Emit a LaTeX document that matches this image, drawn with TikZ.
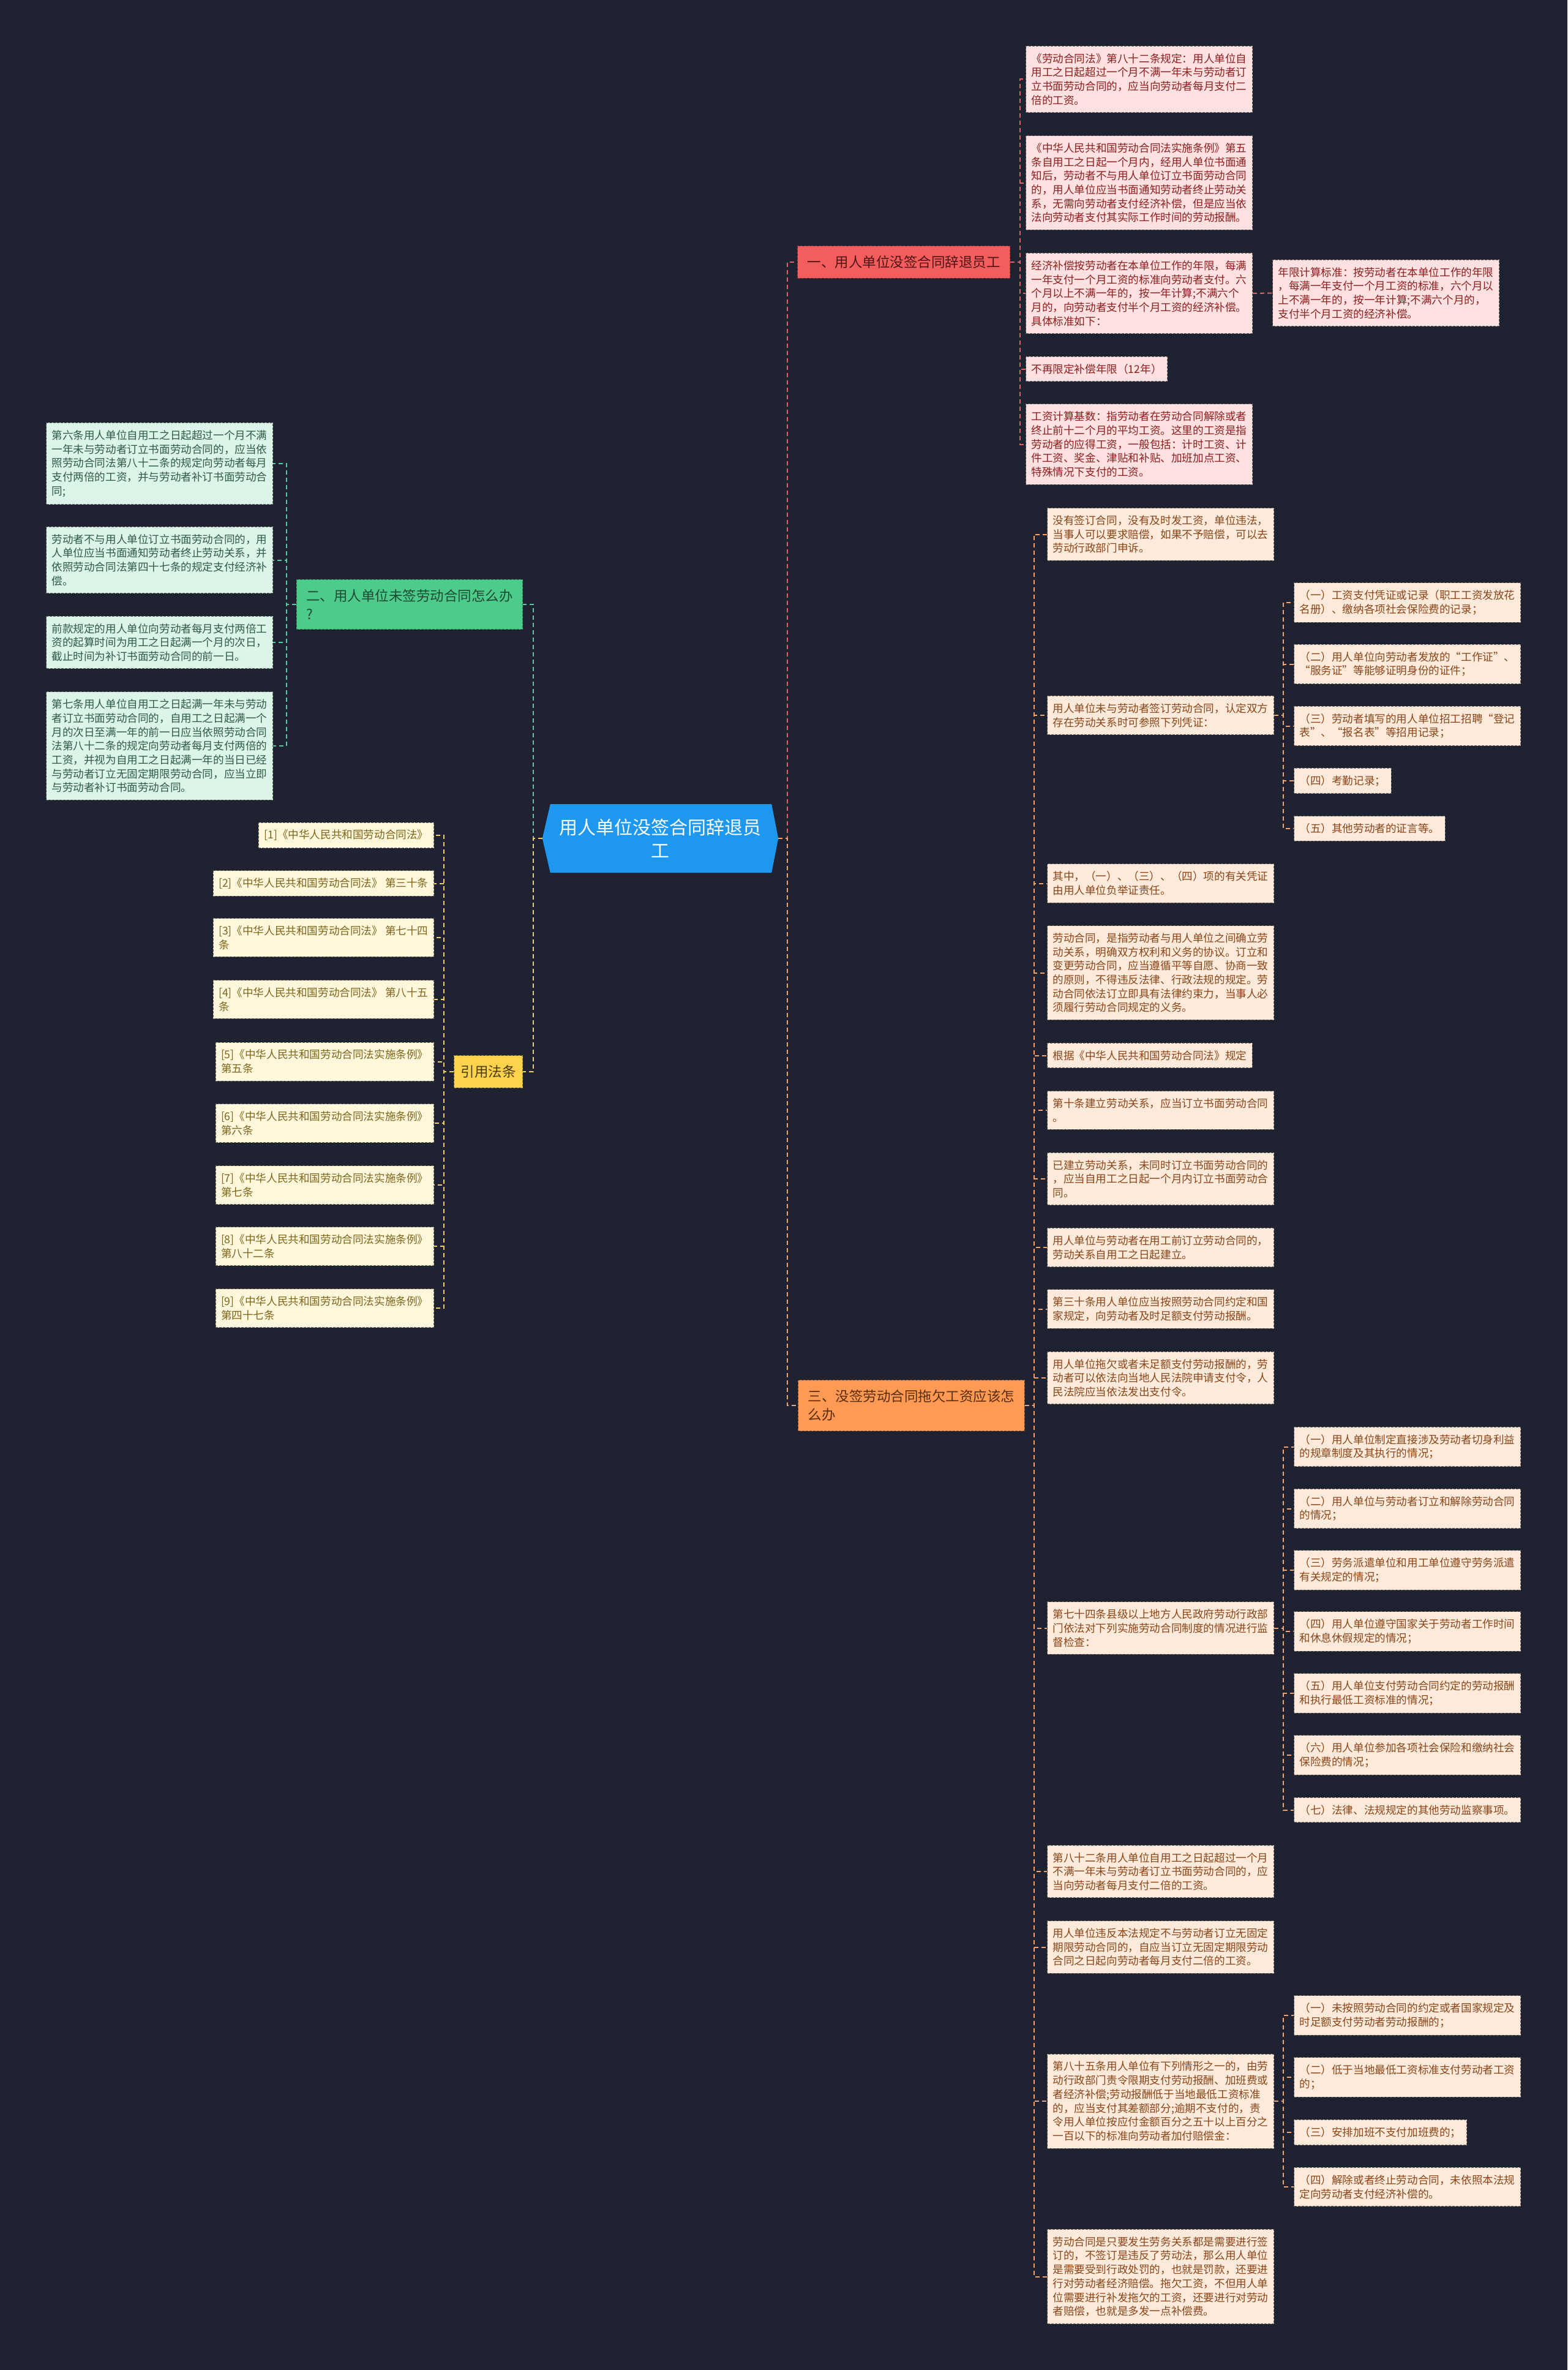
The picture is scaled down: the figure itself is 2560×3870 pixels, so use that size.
\documentclass[tikz,border=0pt]{standalone}
\usepackage{fontspec}
\setmainfont{Noto Sans CJK SC}
\usetikzlibrary{backgrounds,calc}
\definecolor{bg}{HTML}{1F2230}
\definecolor{cblue}{HTML}{1E98EE}
\definecolor{rF}{HTML}{F45D5D}\definecolor{rT}{HTML}{4E1414}\definecolor{rL}{HTML}{FFE1E1}\definecolor{rLT}{HTML}{8E1E1E}\definecolor{rC}{HTML}{E06363}
\definecolor{gF}{HTML}{4CCB8B}\definecolor{gT}{HTML}{1E4A34}\definecolor{gL}{HTML}{DCF5E9}\definecolor{gLT}{HTML}{2F5A45}\definecolor{gC}{HTML}{58C9A0}
\definecolor{yF}{HTML}{FDD34D}\definecolor{yT}{HTML}{4A3A05}\definecolor{yL}{HTML}{FEF7DB}\definecolor{yLT}{HTML}{7D651B}\definecolor{yC}{HTML}{F2CD63}
\definecolor{oF}{HTML}{FF9A54}\definecolor{oT}{HTML}{5A2C0C}\definecolor{oL}{HTML}{FDEADB}\definecolor{oLT}{HTML}{8A4518}\definecolor{oC}{HTML}{F3A36E}
\tikzset{
  leaf/.style={draw, line width=1pt, dash pattern=on 4pt off 2pt, align=left, inner xsep=9pt, inner ysep=12pt, font=\fontsize{17.6}{22.7}\selectfont},
  rleaf/.style={leaf, fill=rL, draw=rL!45!black, text=rLT},
  gleaf/.style={leaf, fill=gL, draw=gL!45!black, text=gLT},
  yleaf/.style={leaf, fill=yL, draw=yL!45!black, text=yLT},
  oleaf/.style={leaf, fill=oL, draw=oL!45!black, text=oLT},
  branchbox/.style={draw, line width=1pt, dash pattern=on 4pt off 2pt, align=left, inner xsep=16pt, inner ysep=16pt, font=\fontsize{22.5}{30}\selectfont},
  conn/.style={line width=2pt, dash pattern=on 7pt off 5pt},
}
\begin{document}
\begin{tikzpicture}[x=1pt,y=-1pt]
\useasboundingbox (0,0) rectangle (2560,3870);
% central
\node[text=white, align=center, minimum width=385pt, minimum height=112pt, inner sep=0pt, font=\fontsize{30}{38}\selectfont] (center) at (1078.5,1369) {用人单位没签合同辞退员\\工};
% branches
\node[branchbox, fill=rF, draw=rF!60!black, text=rT, anchor=west] (b1) at (1302,428) {一、用人单位没签合同辞退员工};
\node[branchbox, fill=gF, draw=gF!60!black, text=gT, anchor=east] (b2) at (854,987) {二、用人单位未签劳动合同怎么办\\?};
\node[branchbox, fill=yF, draw=yF!60!black, text=yT, anchor=east, inner xsep=11pt] (b4) at (854,1750) {引用法条};
\node[branchbox, fill=oF, draw=oF!60!black, text=oT, anchor=west] (b3) at (1303,2295) {三、没签劳动合同拖欠工资应该怎\\么办};
% branch 1 children
\node[rleaf, anchor=west] (c1) at (1675,129.5) {《劳动合同法》第八十二条规定：用人单位自\\用工之日起超过一个月不满一年未与劳动者订\\立书面劳动合同的，应当向劳动者每月支付二\\倍的工资。};
\node[rleaf, anchor=west] (c2) at (1675,298.5) {《中华人民共和国劳动合同法实施条例》第五\\条自用工之日起一个月内，经用人单位书面通\\知后，劳动者不与用人单位订立书面劳动合同\\的，用人单位应当书面通知劳动者终止劳动关\\系，无需向劳动者支付经济补偿，但是应当依\\法向劳动者支付其实际工作时间的劳动报酬。};
\node[rleaf, anchor=west] (c3) at (1675,479) {经济补偿按劳动者在本单位工作的年限，每满\\一年支付一个月工资的标准向劳动者支付。六\\个月以上不满一年的，按一年计算;不满六个\\月的，向劳动者支付半个月工资的经济补偿。\\具体标准如下：};
\node[rleaf, anchor=west] (c3a) at (2078,478.5) {年限计算标准：按劳动者在本单位工作的年限\\，每满一年支付一个月工资的标准，六个月以\\上不满一年的，按一年计算;不满六个月的，\\支付半个月工资的经济补偿。};
\node[rleaf, anchor=west] (c4) at (1675,602.5) {不再限定补偿年限（12年）};
\node[rleaf, anchor=west] (c5) at (1675,725.5) {工资计算基数：指劳动者在劳动合同解除或者\\终止前十二个月的平均工资。这里的工资是指\\劳动者的应得工资，一般包括：计时工资、计\\件工资、奖金、津贴和补贴、加班加点工资、\\特殊情况下支付的工资。};
% branch 2 children
\node[gleaf, anchor=east] (g1) at (446,757) {第六条用人单位自用工之日起超过一个月不满\\一年未与劳动者订立书面劳动合同的，应当依\\照劳动合同法第八十二条的规定向劳动者每月\\支付两倍的工资，并与劳动者补订书面劳动合\\同;};
\node[gleaf, anchor=east] (g2) at (446,914.5) {劳动者不与用人单位订立书面劳动合同的，用\\人单位应当书面通知劳动者终止劳动关系，并\\依照劳动合同法第四十七条的规定支付经济补\\偿。};
\node[gleaf, anchor=east] (g3) at (446,1049) {前款规定的用人单位向劳动者每月支付两倍工\\资的起算时间为用工之日起满一个月的次日，\\截止时间为补订书面劳动合同的前一日。};
\node[gleaf, anchor=east] (g4) at (446,1218) {第七条用人单位自用工之日起满一年未与劳动\\者订立书面劳动合同的，自用工之日起满一个\\月的次日至满一年的前一日应当依照劳动合同\\法第八十二条的规定向劳动者每月支付两倍的\\工资，并视为自用工之日起满一年的当日已经\\与劳动者订立无固定期限劳动合同，应当立即\\与劳动者补订书面劳动合同。};
% references
\node[yleaf, anchor=east] (r1) at (709,1364) {[1]《中华人民共和国劳动合同法》};
\node[yleaf, anchor=east] (r2) at (709,1442.5) {[2]《中华人民共和国劳动合同法》 第三十条};
\node[yleaf, anchor=east] (r3) at (709,1531) {[3]《中华人民共和国劳动合同法》 第七十四\\条};
\node[yleaf, anchor=east] (r4) at (709,1632) {[4]《中华人民共和国劳动合同法》 第八十五\\条};
\node[yleaf, anchor=east] (r5) at (709,1733.5) {[5]《中华人民共和国劳动合同法实施条例》\\第五条};
\node[yleaf, anchor=east] (r6) at (709,1834) {[6]《中华人民共和国劳动合同法实施条例》\\第六条};
\node[yleaf, anchor=east] (r7) at (709,1935) {[7]《中华人民共和国劳动合同法实施条例》\\第七条};
\node[yleaf, anchor=east] (r8) at (709,2035) {[8]《中华人民共和国劳动合同法实施条例》\\第八十二条};
\node[yleaf, anchor=east] (r9) at (709,2136) {[9]《中华人民共和国劳动合同法实施条例》\\第四十七条};
% branch 3 children
\node[oleaf, anchor=west] (t1) at (1710,872.5) {没有签订合同，没有及时发工资，单位违法，\\当事人可以要求赔偿，如果不予赔偿，可以去\\劳动行政部门申诉。};
\node[oleaf, anchor=west] (t2) at (1710,1168) {用人单位未与劳动者签订劳动合同，认定双方\\存在劳动关系时可参照下列凭证：};
\node[oleaf, anchor=west] (u1) at (2113,984) {（一）工资支付凭证或记录（职工工资发放花\\名册）、缴纳各项社会保险费的记录；};
\node[oleaf, anchor=west] (u2) at (2113,1084.5) {（二）用人单位向劳动者发放的“工作证”、\\“服务证”等能够证明身份的证件；};
\node[oleaf, anchor=west] (u3) at (2113,1185.5) {（三）劳动者填写的用人单位招工招聘“登记\\表”、“报名表”等招用记录；};
\node[oleaf, anchor=west] (u4) at (2113,1275) {（四）考勤记录；};
\node[oleaf, anchor=west] (u5) at (2113,1353) {（五）其他劳动者的证言等。};
\node[oleaf, anchor=west] (t3) at (1710,1442.5) {其中，（一）、（三）、（四）项的有关凭证\\由用人单位负举证责任。};
\node[oleaf, anchor=west] (t4) at (1710,1588.5) {劳动合同，是指劳动者与用人单位之间确立劳\\动关系，明确双方权利和义务的协议。订立和\\变更劳动合同，应当遵循平等自愿、协商一致\\的原则，不得违反法律、行政法规的规定。劳\\动合同依法订立即具有法律约束力，当事人必\\须履行劳动合同规定的义务。};
\node[oleaf, anchor=west] (t5) at (1710,1723.5) {根据《中华人民共和国劳动合同法》规定};
\node[oleaf, anchor=west] (t6) at (1710,1813) {第十条建立劳动关系，应当订立书面劳动合同\\。};
\node[oleaf, anchor=west] (t7) at (1710,1925) {已建立劳动关系，未同时订立书面劳动合同的\\，应当自用工之日起一个月内订立书面劳动合\\同。};
\node[oleaf, anchor=west] (t8) at (1710,2037) {用人单位与劳动者在用工前订立劳动合同的，\\劳动关系自用工之日起建立。};
\node[oleaf, anchor=west] (t9) at (1710,2137.5) {第三十条用人单位应当按照劳动合同约定和国\\家规定，向劳动者及时足额支付劳动报酬。};
\node[oleaf, anchor=west] (t10) at (1710,2250) {用人单位拖欠或者未足额支付劳动报酬的，劳\\动者可以依法向当地人民法院申请支付令，人\\民法院应当依法发出支付令。};
\node[oleaf, anchor=west] (t11) at (1710,2658.5) {第七十四条县级以上地方人民政府劳动行政部\\门依法对下列实施劳动合同制度的情况进行监\\督检查：};
\node[oleaf, anchor=west] (v1) at (2113,2362.5) {（一）用人单位制定直接涉及劳动者切身利益\\的规章制度及其执行的情况；};
\node[oleaf, anchor=west] (v2) at (2113,2463.5) {（二）用人单位与劳动者订立和解除劳动合同\\的情况；};
\node[oleaf, anchor=west] (v3) at (2113,2564) {（三）劳务派遣单位和用工单位遵守劳务派遣\\有关规定的情况；};
\node[oleaf, anchor=west] (v4) at (2113,2664) {（四）用人单位遵守国家关于劳动者工作时间\\和休息休假规定的情况；};
\node[oleaf, anchor=west] (v5) at (2113,2765) {（五）用人单位支付劳动合同约定的劳动报酬\\和执行最低工资标准的情况；};
\node[oleaf, anchor=west] (v6) at (2113,2866) {（六）用人单位参加各项社会保险和缴纳社会\\保险费的情况；};
\node[oleaf, anchor=west] (v7) at (2113,2955.5) {（七）法律、法规规定的其他劳动监察事项。};
\node[oleaf, anchor=west] (t12) at (1710,3056) {第八十二条用人单位自用工之日起超过一个月\\不满一年未与劳动者订立书面劳动合同的，应\\当向劳动者每月支付二倍的工资。};
\node[oleaf, anchor=west] (t13) at (1710,3179.5) {用人单位违反本法规定不与劳动者订立无固定\\期限劳动合同的，自应当订立无固定期限劳动\\合同之日起向劳动者每月支付二倍的工资。};
\node[oleaf, anchor=west] (t14) at (1710,3431) {第八十五条用人单位有下列情形之一的，由劳\\动行政部门责令限期支付劳动报酬、加班费或\\者经济补偿;劳动报酬低于当地最低工资标准\\的，应当支付其差额部分;逾期不支付的，责\\令用人单位按应付金额百分之五十以上百分之\\一百以下的标准向劳动者加付赔偿金：};
\node[oleaf, anchor=west] (w1) at (2113,3291) {（一）未按照劳动合同的约定或者国家规定及\\时足额支付劳动者劳动报酬的；};
\node[oleaf, anchor=west] (w2) at (2113,3392) {（二）低于当地最低工资标准支付劳动者工资\\的；};
\node[oleaf, anchor=west] (w3) at (2113,3482) {（三）安排加班不支付加班费的；};
\node[oleaf, anchor=west] (w4) at (2113,3571) {（四）解除或者终止劳动合同，未依照本法规\\定向劳动者支付经济补偿的。};
\node[oleaf, anchor=west] (t15) at (1710,3717.5) {劳动合同是只要发生劳务关系都是需要进行签\\订的，不签订是违反了劳动法，那么用人单位\\是需要受到行政处罚的，也就是罚款，还要进\\行对劳动者经济赔偿。拖欠工资，不但用人单\\位需要进行补发拖欠的工资，还要进行对劳动\\者赔偿，也就是多发一点补偿费。};
\begin{pgfonlayer}{background}
\fill[bg] (0,0) rectangle (2560,3870);
\fill[cblue] (center.west) -- ++(13,-56) -- ($(center.east)+(-11,-56)$) -- (center.east) -- ++(-11,56) -- ($(center.west)+(13,56)$) -- cycle;
% center connectors
\draw[conn, rC] (center.east) -- ++(15,0) |- (b1.west);
\draw[conn, oC] (center.east) -- ++(15,0) |- (b3.west);
\draw[conn, gC] (center.west) -- ++(-15,0) |- (b2.east);
\draw[conn, yC] (center.west) -- ++(-15,0) |- (b4.east);
% branch 1
\foreach \n in {c1,c2,c3,c4,c5} \draw[conn, rC] (b1.east) -- ++(16,0) |- (\n.west);
\draw[conn, rC] (c3.east) -- (c3a.west);
% branch 2
\foreach \n in {g1,g2,g3,g4} \draw[conn, gC] (b2.west) -- ++(-16,0) |- (\n.east);
% refs
\foreach \n in {r1,r2,r3,r4,r5,r6,r7,r8,r9} \draw[conn, yC] (b4.west) -- ++(-16,0) |- (\n.east);
% branch 3
\foreach \n in {t1,t2,t3,t4,t5,t6,t7,t8,t9,t10,t11,t12,t13,t14,t15} \draw[conn, oC] (b3.east) -- ++(15,0) |- (\n.west);
\foreach \n in {u1,u2,u3,u4,u5} \draw[conn, oC] (t2.east) -- ++(15,0) |- (\n.west);
\foreach \n in {v1,v2,v3,v4,v5,v6,v7} \draw[conn, oC] (t11.east) -- ++(15,0) |- (\n.west);
\foreach \n in {w1,w2,w3,w4} \draw[conn, oC] (t14.east) -- ++(15,0) |- (\n.west);
\end{pgfonlayer}
\end{tikzpicture}
\end{document}
